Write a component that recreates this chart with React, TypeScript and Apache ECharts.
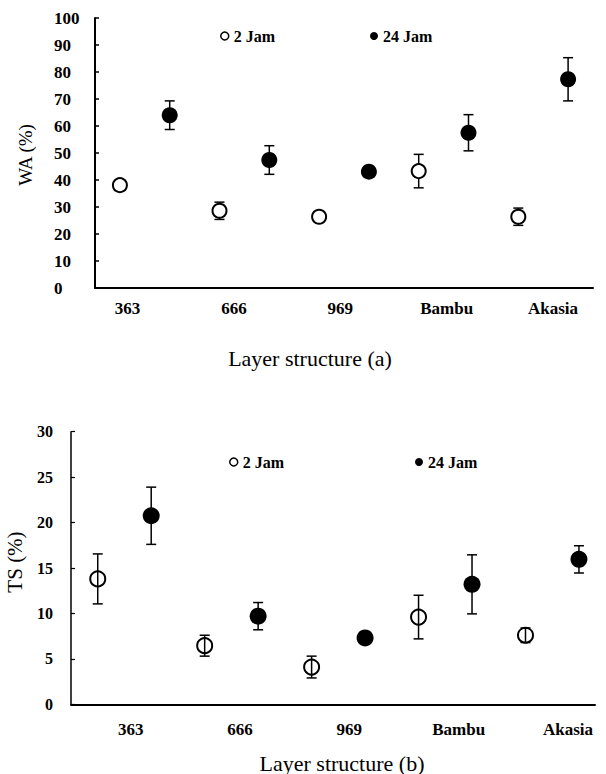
import React, { useEffect, useRef } from 'react';
import * as echarts from 'echarts';

// ---- data ----
const categories = ['363', '666', '969', 'Bambu', 'Akasia'];
const seriesNames = ['2 Jam', '24 Jam'];

// Panel (a) WA (%)
const waShort = [38.1, 28.6, 26.4, 43.3, 26.4];
const waShortErr = [0.8, 3.2, 0.8, 6.2, 3.2];
const waLong = [64.0, 47.4, 43.1, 57.5, 77.3];
const waLongErr = [5.3, 5.3, 0.8, 6.7, 8.0];

// Panel (b) TS (%)
const tsShort = [13.8, 6.45, 4.1, 9.6, 7.6];
const tsShortErr = [2.75, 1.15, 1.2, 2.4, 0.8];
const tsLong = [20.75, 9.7, 7.3, 13.2, 15.95];
const tsLongErr = [3.15, 1.5, 0.3, 3.25, 1.5];

const SERIF = '"Liberation Serif", "Times New Roman", serif';

const pts = (vals: number[], offset: number) => vals.map((v, i) => [i * 2 + offset, v]);
const errs = (vals: number[], e: number[], offset: number) =>
  vals.map((v, i) => [i * 2 + offset, v - e[i], v + e[i]]);

const errRender = (params: any, api: any) => {
  const x = api.value(0);
  const pLo = api.coord([x, api.value(1)]);
  const pHi = api.coord([x, api.value(2)]);
  const w = 5;
  const style = { stroke: '#000', lineWidth: 1.5 };
  return {
    type: 'group',
    children: [
      { type: 'line', shape: { x1: pLo[0], y1: pLo[1], x2: pHi[0], y2: pHi[1] }, style },
      { type: 'line', shape: { x1: pLo[0] - w, y1: pLo[1], x2: pLo[0] + w, y2: pLo[1] }, style },
      { type: 'line', shape: { x1: pHi[0] - w, y1: pHi[1], x2: pHi[0] + w, y2: pHi[1] }, style },
    ],
  };
};

export default function App() {
  const ref = useRef<HTMLDivElement>(null);
  useEffect(() => {
    if (!ref.current) return;
    const chart = echarts.init(ref.current, undefined, { renderer: 'svg' });
    const hiddenY = (g: number) => ({ type: 'value', gridIndex: g, show: false, min: 0, max: 1 });
    const mainX = (g: number, max: number) => ({
      type: 'value', gridIndex: g, min: -0.5, max,
      axisLine: { show: true, onZero: false, lineStyle: { color: '#000', width: 2 } },
      axisTick: { show: false }, axisLabel: { show: false }, splitLine: { show: false },
    });
    const labelX = (g: number, margin: number) => ({
      type: 'category', gridIndex: g, data: categories, boundaryGap: false,
      axisLine: { show: false }, axisTick: { show: false }, splitLine: { show: false },
      axisLabel: { margin, color: '#000', fontFamily: SERIF, fontWeight: 'bold', fontSize: 17 },
    });
    const legendItem = (name: string, filled: boolean, left: number, top: number) => ({
      data: [{
        name,
        itemStyle: filled
          ? { color: '#000', borderColor: '#000', borderWidth: 0, opacity: 1 }
          : { color: '#fff', borderColor: '#000', borderWidth: 1.5, opacity: 1 },
      }],
      left, top, padding: 0, icon: 'circle', itemWidth: 8, itemHeight: 8,
      selectedMode: false,
      textStyle: { fontFamily: SERIF, fontWeight: 'bold', fontSize: 16, color: '#000' },
    });
    const openStyle = { color: '#fff', borderColor: '#000', borderWidth: 2, opacity: 1 };
    const fillStyle = { color: '#000', borderColor: '#000', borderWidth: 0, opacity: 1 };

    chart.setOption({
      animation: false,
      backgroundColor: '#fff',
      grid: [
        { left: 95, right: 13, top: 18, height: 270 },
        { left: 127.6, right: 53, top: 18, height: 270 },
        { left: 71, right: 11, top: 431.7, height: 272.6 },
        { left: 130.7, right: 38, top: 431.7, height: 272.6 },
      ],
      xAxis: [mainX(0, 9.5), labelX(1, 12), mainX(2, 9.3), labelX(3, 17)],
      yAxis: [
        {
          type: 'value', gridIndex: 0, min: 0, max: 100, interval: 10,
          axisLine: { show: true, onZero: false, lineStyle: { color: '#000', width: 2 } },
          axisTick: { show: true, inside: true, length: 4, lineStyle: { color: '#000', width: 1.5 } },
          axisLabel: { align: 'left', margin: 41, color: '#000', fontFamily: SERIF, fontWeight: 'bold', fontSize: 17 },
          splitLine: { show: false },
        },
        hiddenY(1),
        {
          type: 'value', gridIndex: 2, min: 0, max: 30, interval: 5,
          axisLine: { show: true, onZero: false, lineStyle: { color: '#000', width: 1.5 } },
          axisTick: { show: true, inside: true, length: 4, lineStyle: { color: '#000', width: 1.2 } },
          axisLabel: { margin: 18, color: '#000', fontFamily: SERIF, fontWeight: 'bold', fontSize: 16 },
          splitLine: { show: false },
        },
        hiddenY(3),
      ],
      legend: [
        legendItem(seriesNames[0], false, 220, 28),
        legendItem(seriesNames[1], true, 370, 28),
        legendItem(seriesNames[0], false, 229, 454),
        legendItem(seriesNames[1], true, 415, 454),
      ],
      series: [
        // panel (a)
        { type: 'custom', name: 'errA1', xAxisIndex: 0, yAxisIndex: 0, z: 1, renderItem: errRender,
          encode: { x: 0, y: [1, 2] }, data: errs(waShort, waShortErr, 0) },
        { type: 'custom', name: 'errA2', xAxisIndex: 0, yAxisIndex: 0, z: 1, renderItem: errRender,
          encode: { x: 0, y: [1, 2] }, data: errs(waLong, waLongErr, 1) },
        { type: 'scatter', name: seriesNames[0], xAxisIndex: 0, yAxisIndex: 0, z: 2,
          symbol: 'circle', symbolSize: 14, itemStyle: openStyle, data: pts(waShort, 0) },
        { type: 'scatter', name: seriesNames[1], xAxisIndex: 0, yAxisIndex: 0, z: 2,
          symbol: 'circle', symbolSize: 16, itemStyle: fillStyle, data: pts(waLong, 1) },
        // panel (b)
        { type: 'scatter', name: seriesNames[0], xAxisIndex: 2, yAxisIndex: 2, z: 2,
          symbol: 'circle', symbolSize: 15, itemStyle: openStyle, data: pts(tsShort, 0) },
        { type: 'custom', name: 'errB1', xAxisIndex: 2, yAxisIndex: 2, z: 3, renderItem: errRender,
          encode: { x: 0, y: [1, 2] }, data: errs(tsShort, tsShortErr, 0) },
        { type: 'custom', name: 'errB2', xAxisIndex: 2, yAxisIndex: 2, z: 3, renderItem: errRender,
          encode: { x: 0, y: [1, 2] }, data: errs(tsLong, tsLongErr, 1) },
        { type: 'scatter', name: seriesNames[1], xAxisIndex: 2, yAxisIndex: 2, z: 4,
          symbol: 'circle', symbolSize: 17, itemStyle: fillStyle, data: pts(tsLong, 1) },
      ],
      graphic: [
        { type: 'text', x: 310, y: 358, style: { text: 'Layer structure (a)', fontFamily: SERIF, fontSize: 22, fill: '#000', align: 'center', verticalAlign: 'middle' } },
        { type: 'text', x: 342, y: 763, style: { text: 'Layer structure (b)', fontFamily: SERIF, fontSize: 22, fill: '#000', align: 'center', verticalAlign: 'middle' } },
        { type: 'text', x: 25, y: 155, rotation: Math.PI / 2, style: { text: 'WA (%)', fontFamily: SERIF, fontSize: 19, fill: '#000', align: 'center', verticalAlign: 'middle' } },
        { type: 'text', x: 15, y: 562, rotation: Math.PI / 2, style: { text: 'TS (%)', fontFamily: SERIF, fontSize: 21, fill: '#000', align: 'center', verticalAlign: 'middle' } },
      ],
    });
    return () => chart.dispose();
  }, []);
  return <div ref={ref} style={{ position: 'absolute', left: 0, top: 0, width: 606, height: 774 }} />;
}
